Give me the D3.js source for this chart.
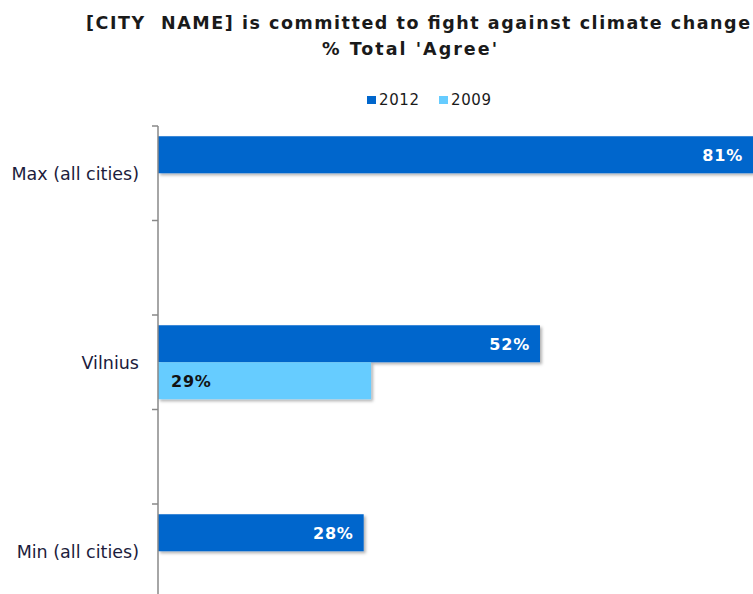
<!DOCTYPE html>
<html>
<head>
<meta charset="utf-8">
<script src="https://cdn.jsdelivr.net/npm/d3@7"></script>
<style>
  body { margin: 0; background: #fff; }
</style>
</head>
<body>
<script>
// categories (blank slots keep the empty rows between the bars)
var categories = ["Max (all cities)", "gap1", "Vilnius", "gap2", "Min (all cities)", "gap3"];
var labels = ["Max (all cities)", "", "Vilnius", "", "Min (all cities)", ""];
var series = ["2012", "2009"];
var values2012 = [81, null, 52, null, 28, null];
var values2009 = [null, null, 29, null, null, null];
var colors = ["#0066cc", "#66ccff"];

var width = 753, height = 594;

var svg = d3.select("body").append("svg")
  .attr("width", width)
  .attr("height", height);

var defs = svg.append("defs");
var shadow = defs.append("filter").attr("id", "shadow")
  .attr("x", "-5%").attr("y", "-20%").attr("width", "115%").attr("height", "160%");
shadow.append("feDropShadow")
  .attr("dx", 2).attr("dy", 2).attr("stdDeviation", 1.5)
  .attr("flood-color", "#000").attr("flood-opacity", 0.3);

var x = d3.scaleLinear().domain([0, 100]).range([158, 892.6]);

var y = d3.scaleBand().domain(categories).range([126, 693]).padding(0);

var ySub = d3.scaleBand().domain(series)
  .range([0, y.bandwidth()])
  .paddingInner(0)
  .paddingOuter(0.277);

// title
var title = svg.append("g")
  .style("font-family", "'DejaVu Sans', Verdana, sans-serif")
  .style("font-weight", "bold")
  .style("font-size", "17.5px")
  .attr("fill", "#1a1a1a");
title.append("text").attr("x", 86).attr("y", 29)
  .attr("textLength", 664).attr("lengthAdjust", "spacing")
  .text("[CITY\u00a0 NAME] is committed to fight against climate change");
title.append("text").attr("x", 322).attr("y", 55)
  .attr("textLength", 175).attr("lengthAdjust", "spacing")
  .text("% Total 'Agree'");

// legend
var legend = svg.append("g")
  .style("font-family", "'DejaVu Sans', Verdana, sans-serif")
  .style("font-size", "15px");
var legendX = [367, 439];
series.forEach(function (s, i) {
  legend.append("rect")
    .attr("x", legendX[i]).attr("y", 96)
    .attr("width", 9).attr("height", 8)
    .attr("fill", colors[i]);
  legend.append("text")
    .attr("x", legendX[i] + 12).attr("y", 105)
    .attr("textLength", 40).attr("lengthAdjust", "spacing")
    .attr("fill", "#1a1a1a")
    .text(s);
});

// bars
var rows = categories.map(function (c, i) {
  return { cat: c, label: labels[i], v: [values2012[i], values2009[i]] };
});

var bars = [];
rows.forEach(function (r) {
  series.forEach(function (s, j) {
    if (r.v[j] != null) bars.push({ cat: r.cat, series: s, idx: j, value: r.v[j] });
  });
});

svg.append("g").selectAll("rect")
  .data(bars)
  .join("rect")
  .attr("x", x(0))
  .attr("y", function (d) { return y(d.cat) + ySub(d.series); })
  .attr("width", function (d) { return x(d.value) - x(0); })
  .attr("height", ySub.bandwidth())
  .attr("fill", function (d) { return colors[d.idx]; })
  .attr("filter", "url(#shadow)");

// value labels
svg.append("g").selectAll("text")
  .data(bars)
  .join("text")
  .attr("x", function (d) { return d.idx === 0 ? x(d.value) - 10 : x(0) + 13; })
  .attr("y", function (d) { return y(d.cat) + ySub(d.series) + ySub.bandwidth() / 2; })
  .attr("dy", "0.36em")
  .attr("text-anchor", function (d) { return d.idx === 0 ? "end" : "start"; })
  .attr("fill", function (d) { return d.idx === 0 ? "#ffffff" : "#111111"; })
  .style("font-family", "'DejaVu Sans', Verdana, sans-serif")
  .style("font-weight", "bold")
  .style("font-size", "16px")
  .style("letter-spacing", "0.8px")
  .text(function (d) { return d.value + "%"; });

// y axis
var gAxis = svg.append("g").attr("transform", "translate(" + x(0) + ",0)");
gAxis.append("line")
  .attr("x1", 0).attr("x2", 0)
  .attr("y1", y.range()[0]).attr("y2", height)
  .attr("stroke", "#888").attr("stroke-width", 1.5);

// ticks at the band boundaries
gAxis.selectAll("line.tick")
  .data(categories)
  .join("line")
  .attr("class", "tick")
  .attr("x1", -6).attr("x2", 0)
  .attr("y1", function (d) { return y(d); })
  .attr("y2", function (d) { return y(d); })
  .attr("stroke", "#888").attr("stroke-width", 1.5);

gAxis.selectAll("text.cat")
  .data(rows.filter(function (r) { return r.label; }))
  .join("text")
  .attr("class", "cat")
  .attr("x", -19)
  .attr("y", function (d) { return y(d.cat) + y.bandwidth() / 2; })
  .attr("dy", "0.36em")
  .attr("text-anchor", "end")
  .attr("fill", "#1c1c3c")
  .style("font-family", "'DejaVu Sans', Verdana, sans-serif")
  .style("font-size", "17.5px")
  .text(function (d) { return d.label; });
</script>
</body>
</html>
